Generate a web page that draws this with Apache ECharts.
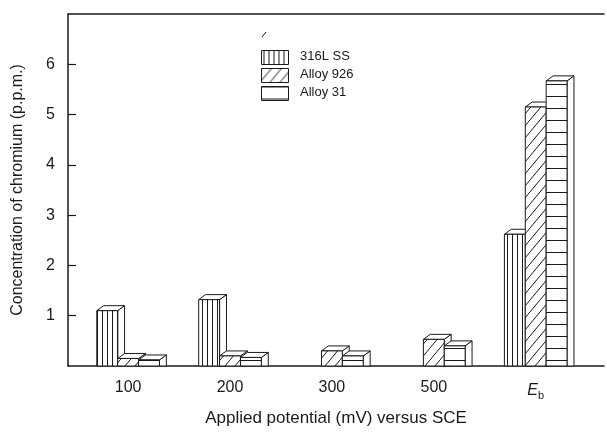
<!DOCTYPE html>
<html>
<head>
<meta charset="utf-8">
<script src="https://cdn.jsdelivr.net/npm/echarts@6/dist/echarts.min.js"></script>
<style>
html, body { margin: 0; padding: 0; background: #fff; }
#chart { width: 607px; height: 432px; }
</style>
</head>
<body>
<div id="chart"></div>
<script>
var categories = ['100', '200', '300', '500', 'Eb'];
var seriesNames = ['316L SS', 'Alloy 926', 'Alloy 31'];
var ss316L = [1.1, 1.32, 0, 0, 2.62];
var alloy926 = [0.15, 0.2, 0.3, 0.53, 5.15];
var alloy31 = [0.12, 0.17, 0.2, 0.4, 5.67];
var yTicks = [1, 2, 3, 4, 5, 6];

var ink = '#1a1a1a';
var font = '"Liberation Sans", Arial, sans-serif';

// hatch fills: vertical, diagonal, horizontal
function makePattern(kind) {
	var c = document.createElement('canvas');
	var ctx = c.getContext('2d');
	if (kind == 'v') { c.width = 5; c.height = 4; }
	else if (kind == 'h') { c.width = 4; c.height = 12; }
	else { c.width = 10; c.height = 12; }
	ctx.fillStyle = '#fff';
	ctx.fillRect(0, 0, c.width, c.height);
	ctx.strokeStyle = ink;
	ctx.lineWidth = 1;
	ctx.beginPath();
	if (kind == 'v') {
		ctx.moveTo(2.5, 0); ctx.lineTo(2.5, 4);
	} else if (kind == 'h') {
		ctx.moveTo(0, 0.5); ctx.lineTo(4, 0.5);
	} else {
		ctx.moveTo(-1, 13.2); ctx.lineTo(11, -1.2);
	}
	ctx.stroke();
	return { image: c, repeat: 'repeat' };
}
var fills = [makePattern('v'), makePattern('d'), makePattern('h')];

function renderBar(s) {
	return function (params, api) {
		var v = api.value(1);
		if (!v) return;
		var idx = api.value(0);
		var unit = api.size([1, 0])[0];
		var w = unit * 0.205;
		var top = api.coord([idx, v]);
		var base = api.coord([idx, 0]);
		var x0 = top[0] + (s - 1) * w - w / 2;
		var dx = w * 0.33, dy = 5;
		var y1 = top[1], y0 = base[1];
		return {
			type: 'group',
			children: [{
				type: 'polygon',
				shape: { points: [[x0 + w, y1], [x0 + w + dx, y1 - dy], [x0 + w + dx, y0], [x0 + w, y0]] },
				style: { fill: '#fff', stroke: ink, lineWidth: 1 }
			}, {
				type: 'polygon',
				shape: { points: [[x0, y1], [x0 + dx, y1 - dy], [x0 + w + dx, y1 - dy], [x0 + w, y1]] },
				style: { fill: '#fff', stroke: ink, lineWidth: 1 }
			}, {
				type: 'rect',
				shape: { x: x0, y: y1, width: w, height: y0 - y1 },
				style: { fill: fills[s], stroke: ink, lineWidth: 1 }
			}]
		};
	};
}

function toData(arr) {
	var out = [];
	for (var i = 0; i < arr.length; i++) out.push([i, arr[i]]);
	return out;
}

var values = [ss316L, alloy926, alloy31];
var series = [];
for (var s = 0; s < 3; s++) {
	series.push({
		name: seriesNames[s],
		type: 'custom',
		renderItem: renderBar(s),
		data: toData(values[s])
	});
}

var legend = [];
for (var k = 0; k < 3; k++) {
	legend.push({
		type: 'rect', left: 261, top: 50 + k * 18,
		shape: { width: 27, height: 14 },
		style: { fill: fills[k], stroke: ink, lineWidth: 1 }
	});
	legend.push({
		type: 'text', left: 300, top: 50 + k * 18,
		style: { text: seriesNames[k], fill: ink, font: '13px ' + font }
	});
}
legend.push({
	type: 'line', shape: { x1: 262, y1: 37, x2: 266, y2: 32 },
	style: { stroke: ink, lineWidth: 1 }
});

var chart = echarts.init(document.getElementById('chart'));
chart.setOption({
	animation: false,
	backgroundColor: '#fff',
	grid: { left: 68, right: 3, top: 14, bottom: 60 },
	xAxis: [{
		type: 'value',
		min: -0.59, max: 4.67,
		name: 'Applied potential (mV) versus SCE',
		nameLocation: 'middle',
		nameGap: 44,
		nameTextStyle: { fontFamily: font, fontSize: 17, color: ink },
		axisLine: { show: true, onZero: false, lineStyle: { color: ink, width: 1.5 } },
		axisTick: { show: false },
		splitLine: { show: false },
		axisLabel: {
			customValues: [0, 1, 2, 3, 4],
			margin: 14,
			fontFamily: font, fontSize: 16, color: ink,
			formatter: function (v) {
				var c = categories[Math.round(v)];
				return c == 'Eb' ? '{i|E}{s|b}' : c;
			},
			rich: {
				i: { fontFamily: font, fontSize: 16, fontStyle: 'italic', color: ink },
				s: { fontFamily: font, fontSize: 11, color: ink, padding: [10, 0, 0, 0] }
			}
		}
	}, {
		type: 'value',
		position: 'top',
		min: -0.59, max: 4.67,
		axisLine: { show: true, onZero: false, lineStyle: { color: ink, width: 1.5 } },
		axisTick: { show: false },
		axisLabel: { show: false },
		splitLine: { show: false }
	}],
	yAxis: {
		type: 'value',
		min: 0, max: 7, interval: 1,
		name: 'Concentration of chromium (p.p.m.)',
		nameLocation: 'middle',
		nameGap: 42,
		nameTextStyle: { fontFamily: font, fontSize: 16, color: ink },
		axisLine: { show: true, onZero: false, lineStyle: { color: ink, width: 1.5 } },
		axisTick: { show: true, inside: true, length: 8, customValues: yTicks, lineStyle: { color: ink, width: 1.2 } },
		axisLabel: { customValues: yTicks, margin: 13, fontFamily: font, fontSize: 16, color: ink },
		splitLine: { show: false }
	},
	graphic: legend,
	series: series
});
</script>
</body>
</html>
